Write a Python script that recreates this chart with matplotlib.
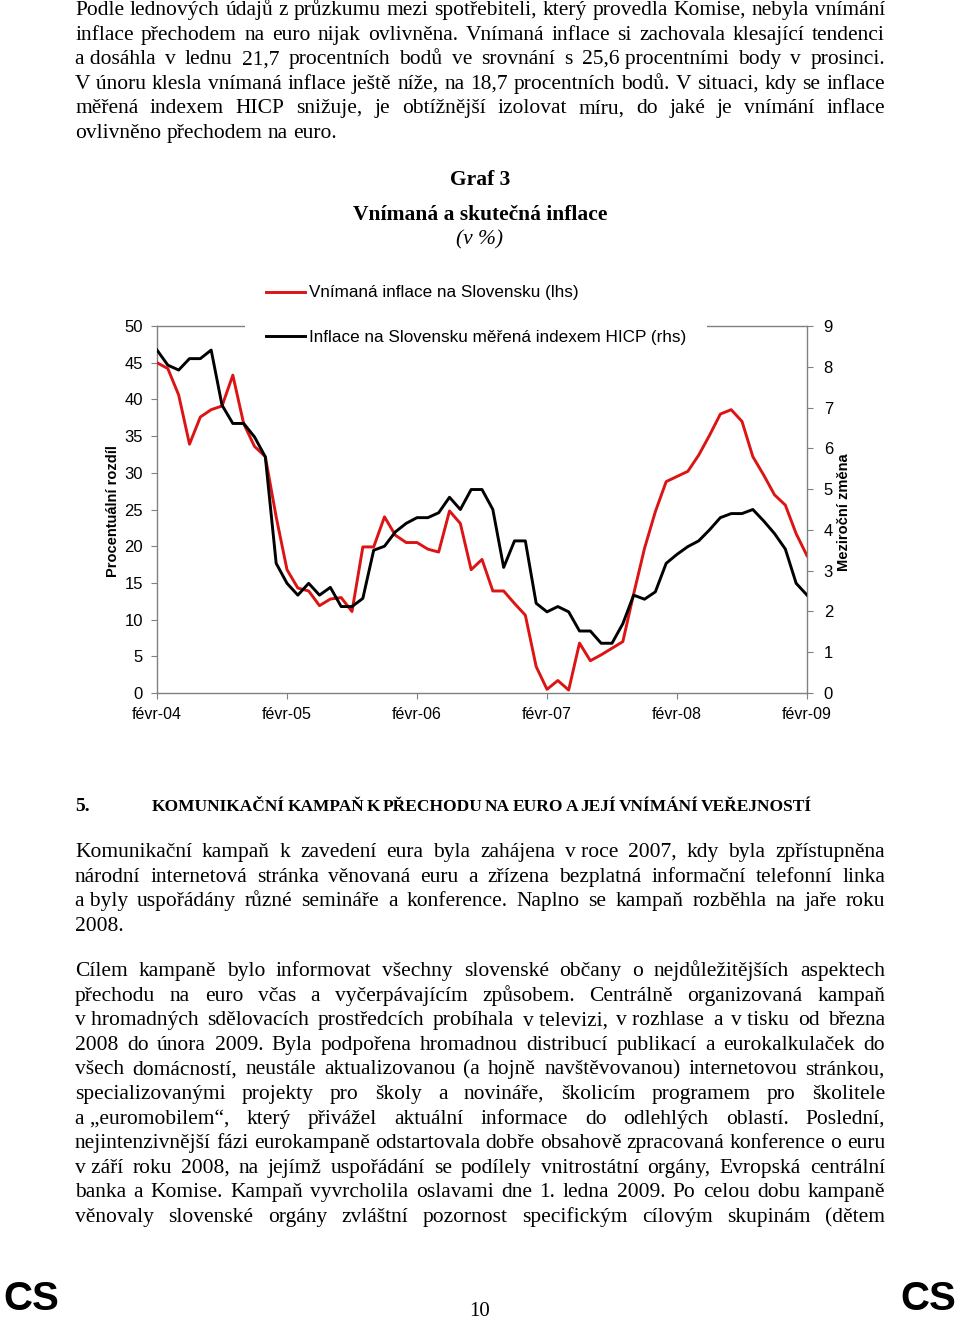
import matplotlib
matplotlib.use('Agg')
import matplotlib.pyplot as plt
import numpy as np
from matplotlib.lines import Line2D

# ---------------- data ----------------
perceived = [45.0, 44.2, 40.6, 33.9, 37.6, 38.6, 39.1, 43.3, 36.7, 33.6, 32.2, 24.0,
             16.8, 14.3, 13.9, 11.9, 12.8, 13.0, 11.1, 19.9, 19.9, 24.0, 21.5, 20.5,
             20.5, 19.6, 19.2, 24.8, 23.1, 16.8, 18.2, 13.9, 13.9, 12.2, 10.6, 3.6,
             0.5, 1.7, 0.4, 6.8, 4.4, 5.2, 6.1, 7.0, 13.5, 19.7, 24.7, 28.8,
             29.5, 30.2, 32.4, 35.1, 38.0, 38.6, 37.0, 32.2, 29.7, 27.0, 25.6, 21.7,
             18.7]
hicp = [8.41, 8.04, 7.92, 8.20, 8.20, 8.41, 7.06, 6.61, 6.61, 6.28, 5.79, 3.18,
        2.69, 2.40, 2.69, 2.40, 2.59, 2.12, 2.12, 2.32, 3.50, 3.60, 3.95, 4.16,
        4.30, 4.30, 4.42, 4.80, 4.50, 4.99, 4.99, 4.50, 3.08, 3.73, 3.73, 2.20,
        1.99, 2.12, 1.99, 1.52, 1.52, 1.22, 1.22, 1.70, 2.40, 2.30, 2.48, 3.18,
        3.40, 3.59, 3.73, 4.00, 4.30, 4.40, 4.40, 4.50, 4.22, 3.91, 3.53, 2.69,
        2.40]
tick_labels = ['févr-04', 'févr-05', 'févr-06', 'févr-07', 'févr-08', 'févr-09']
left_ticks = list(range(0, 51, 5))
right_ticks = list(range(0, 10))
legend_labels = ['Vnímaná inflace na Slovensku (lhs)',
                 'Inflace na Slovensku měřená indexem HICP (rhs)']

NB = '\u00a0'
para1 = [
    "Podle lednových údajů z průzkumu mezi spotřebiteli, který provedla Komise, nebyla vnímání",
    "inflace přechodem na euro nijak ovlivněna. Vnímaná inflace si zachovala klesající tendenci",
    "a" + NB + "dosáhla v lednu 21,7 procentních bodů ve srovnání s 25,6" + NB + "procentními body v prosinci.",
    "V" + NB + "únoru klesla vnímaná inflace ještě níže, na 18,7 procentních bodů. V situaci, kdy se inflace",
    "měřená indexem HICP snižuje, je obtížnější izolovat míru, do jaké je vnímání inflace",
    "ovlivněno přechodem na euro.",
]
heading_num = "5."
heading = "KOMUNIKAČNÍ KAMPAŇ K PŘECHODU NA EURO A JEJÍ VNÍMÁNÍ VEŘEJNOSTÍ"
para2 = [
    "Komunikační kampaň k zavedení eura byla zahájena v" + NB + "roce 2007, kdy byla zpřístupněna",
    "národní internetová stránka věnovaná euru a zřízena bezplatná informační telefonní linka",
    "a" + NB + "byly uspořádány různé semináře a konference. Naplno se kampaň rozběhla na jaře roku",
    "2008.",
]
para3 = [
    "Cílem kampaně bylo informovat všechny slovenské občany o nejdůležitějších aspektech",
    "přechodu na euro včas a vyčerpávajícím způsobem. Centrálně organizovaná kampaň",
    "v" + NB + "hromadných sdělovacích prostředcích probíhala v" + NB + "televizi, v" + NB + "rozhlase a v" + NB + "tisku od března",
    "2008 do února 2009. Byla podpořena hromadnou distribucí publikací a eurokalkulaček do",
    "všech domácností, neustále aktualizovanou (a hojně navštěvovanou) internetovou stránkou,",
    "specializovanými projekty pro školy a novináře, školicím programem pro školitele",
    "a" + NB + "\u201eeuromobilem\u201c, který přivážel aktuální informace do odlehlých oblastí. Poslední,",
    "nejintenzivnější fázi eurokampaně odstartovala dobře obsahově zpracovaná konference o euru",
    "v" + NB + "září roku 2008, na jejímž uspořádání se podílely vnitrostátní orgány, Evropská centrální",
    "banka a Komise. Kampaň vyvrcholila oslavami dne 1. ledna 2009. Po celou dobu kampaně",
    "věnovaly slovenské orgány zvláštní pozornost specifickým cílovým skupinám (dětem",
]

# ---------------- figure ----------------
W, H = 960, 1320
SERIF = ['Liberation Serif', 'DejaVu Serif']
SANS = ['Liberation Sans', 'DejaVu Sans']
plt.rcParams['font.family'] = SANS
fig = plt.figure(figsize=(W / 100, H / 100), dpi=100)
fig.patch.set_facecolor('white')
renderer = fig.canvas.get_renderer()


def fx(px):
    return px / W


def fy(py):
    return 1 - py / H


def set_line(text, left, right, baseline, size, justify=True, **kw):
    words = text.split(' ')
    arts = [fig.text(0, fy(baseline), w, fontsize=size, family=SERIF,
                     va='baseline', ha='left', **kw) for w in words]
    widths = [a.get_window_extent(renderer).width for a in arts]
    if justify and len(words) > 1:
        gap = (right - left - sum(widths)) / (len(words) - 1)
    else:
        gap = 0.25 * size * 100 / 72
    x = left
    for a, w in zip(arts, widths):
        a.set_x(fx(x))
        x += w + gap


BODY = 15.5
LEFT, RIGHT = 75, 885
LS = 24.6


def paragraph(lines, first_baseline, last_justified=False):
    for k, line in enumerate(lines):
        just = (k < len(lines) - 1) or last_justified
        set_line(line, LEFT, RIGHT, first_baseline + k * LS, BODY, justify=just)


paragraph(para1, 15)
paragraph(para2, 857)
paragraph(para3, 976, last_justified=True)

# section heading
fig.text(fx(75), fy(811), heading_num, fontsize=14, fontweight='bold',
         family=SERIF, va='baseline', ha='left')
set_line(heading, 152, 812, 811, 12.5, justify=True, fontweight='bold')

# chart titles
fig.text(fx(480), fy(185), 'Graf 3', fontsize=15.5, fontweight='bold',
         family=SERIF, ha='center', va='baseline')
fig.text(fx(480), fy(220), 'Vnímaná a skutečná inflace', fontsize=15.5,
         fontweight='bold', family=SERIF, ha='center', va='baseline')
fig.text(fx(480), fy(244), '(v %)', fontsize=15.5, style='italic',
         family=SERIF, ha='center', va='baseline')

# ---------------- chart ----------------
RED = '#DC1414'
GREY = '#808080'
ax = fig.add_axes([fx(157), fy(693), 650 / W, 367 / H])
ax2 = ax.twinx()
x = np.arange(len(perceived))
ax.plot(x, perceived, color=RED, lw=2.1, zorder=3)
ax2.plot(x, hicp, color='black', lw=2.1, zorder=3)

ax.set_xlim(0, len(perceived) - 1)
ax.set_ylim(0, 50)
ax2.set_ylim(0, 9)
ax.set_xticks(np.arange(0, len(perceived), 12))
ax.set_xticklabels(tick_labels)
ax.set_yticks(left_ticks)
ax2.set_yticks(right_ticks)

for s in ['top', 'right']:
    ax.spines[s].set_visible(False)
for s in ['left', 'bottom']:
    ax2.spines[s].set_visible(False)
for a in (ax, ax2):
    for s in a.spines.values():
        s.set_color(GREY)
        s.set_linewidth(1.0)

ax.tick_params(axis='y', direction='out', length=4, color=GREY, labelsize=12,
               pad=6, labelcolor='black')
ax.tick_params(axis='x', direction='out', length=4, color=GREY, labelsize=11.5,
               pad=6, labelcolor='black')
ax2.tick_params(axis='y', direction='out', length=4, color=GREY, labelsize=12,
                pad=8, labelcolor='black')

fig.text(fx(113), fy(511), 'Procentuální rozdíl', rotation=90, fontsize=10.5,
         fontweight='bold', ha='center', va='center')
fig.text(fx(844), fy(512), 'Meziroční změna', rotation=90, fontsize=10.5,
         fontweight='bold', ha='center', va='center')

handles = [Line2D([], [], color=RED, lw=2.1), Line2D([], [], color='black', lw=2.1)]
leg = ax2.legend(handles, legend_labels, loc='upper left',
                 bbox_to_anchor=(fx(245), fy(265)), bbox_transform=fig.transFigure,
                 frameon=True, facecolor='white', edgecolor='none', framealpha=1,
                 fancybox=False, borderpad=1.2, borderaxespad=0, handlelength=2.3,
                 handletextpad=0.25, labelspacing=1.72, fontsize=12.3)
leg.set_zorder(10)

# ---------------- footer ----------------
fig.text(fx(3), fy(1310), 'CS', fontsize=29, fontweight='bold', family=SANS,
         ha='left', va='baseline')
fig.text(fx(956), fy(1310), 'CS', fontsize=29, fontweight='bold', family=SANS,
         ha='right', va='baseline')
fig.text(fx(480), fy(1316), '10', fontsize=15, family=SERIF, ha='center',
         va='baseline')

fig.savefig('out.png', dpi=100, facecolor='white')
